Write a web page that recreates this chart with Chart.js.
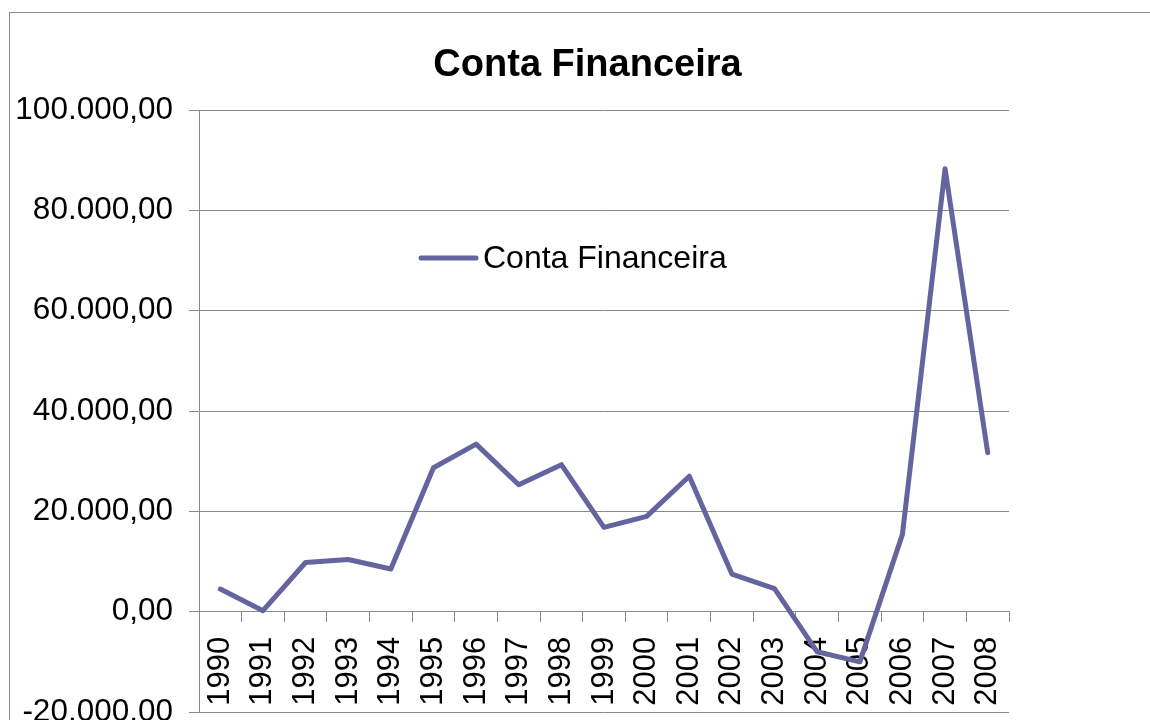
<!DOCTYPE html>
<html>
<head>
<meta charset="utf-8">
<script src="https://cdn.jsdelivr.net/npm/chart.js@4/dist/chart.umd.min.js"></script>
<style>
  html, body { margin: 0; padding: 0; background: #fff; overflow: hidden; width: 1150px; height: 720px; }
  #box { position: absolute; left: 9px; top: 12px; width: 1155px; height: 760px; border: 1.5px solid #8c8c8c; }
  #box canvas { display: block; }
</style>
</head>
<body>
<div id="box"><canvas id="myChart"></canvas></div>
<script>
// dados
const anos = ["1990", "1991", "1992", "1993", "1994", "1995", "1996", "1997", "1998", "1999",
  "2000", "2001", "2002", "2003", "2004", "2005", "2006", "2007", "2008"];
const contaFinanceira = [4500, 200, 9800, 10400, 8500, 28700, 33400, 25300, 29300, 16800,
  19000, 27000, 7500, 4600, -8000, -10000, 15400, 88300, 31700];
const yMin = -20000;
const yMax = 100000;
const yStep = 20000;

const corLinha = "#64649e";
const corGrade = "#898989";
const fonte = "'Liberation Sans', Arial, sans-serif";

// formato 100.000,00
function formatoBR(v) {
  const neg = v < 0;
  let s = Math.abs(Math.round(v)).toString();
  s = s.replace(/\B(?=(\d{3})+(?!\d))/g, ".");
  return (neg ? "-" : "") + s + ",00";
}

// legenda dentro da area do grafico (como no Excel)
const legendaInterna = {
  id: "legendaInterna",
  afterDraw(chart) {
    const ctx = chart.ctx;
    const area = chart.chartArea;
    const ds = chart.data.datasets[0];
    const x = area.left + 222;
    const y = area.top + 148;
    ctx.save();
    ctx.strokeStyle = ds.borderColor;
    ctx.lineWidth = 5;
    ctx.lineCap = "round";
    ctx.beginPath();
    ctx.moveTo(x, y);
    ctx.lineTo(x + 55, y);
    ctx.stroke();
    ctx.fillStyle = "#000";
    ctx.font = "32px " + fonte;
    ctx.textBaseline = "middle";
    ctx.textAlign = "left";
    ctx.fillText(ds.label, x + 62, y + 1);
    ctx.restore();
  },
};

const ctx = document.getElementById("myChart").getContext("2d");

const chartInstance = new Chart(ctx, {
  type: "line",
  data: {
    labels: anos,
    datasets: [
      {
        label: "Conta Financeira",
        data: contaFinanceira,
        borderColor: corLinha,
        backgroundColor: corLinha,
        borderWidth: 5,
        borderCapStyle: "round",
        borderJoinStyle: "round",
        pointRadius: 0,
        tension: 0,
        yAxisID: "y",
      },
    ],
  },
  options: {
    responsive: true,
    maintainAspectRatio: false,
    animation: false,
    layout: { padding: { top: 0, left: 0, right: 0, bottom: 61 } },
    plugins: {
      legend: { display: false },
      tooltip: { enabled: false },
      title: {
        display: true,
        text: "Conta Financeira",
        color: "#000",
        font: { family: fonte, size: 38, weight: "bold" },
        padding: { top: 30, bottom: 21.4 },
      },
    },
    scales: {
      x: {
        type: "category",
        position: { y: 0 }, // eixo X cruza no zero
        offset: true,
        grid: {
          offset: true,
          drawOnChartArea: false,
          drawTicks: true,
          tickLength: 10,
          color: corGrade,
        },
        border: { color: corGrade, width: 1 },
        ticks: {
          color: "#000",
          font: { family: fonte, size: 31 },
          minRotation: 90,
          maxRotation: 90,
          autoSkip: false,
          padding: 15,
        },
        afterFit(scale) {
          scale.height = 0;
        },
      },
      y: {
        position: "left",
        min: yMin,
        max: yMax,
        grid: { color: corGrade, tickLength: 10, lineWidth: 1 },
        border: { color: corGrade, width: 1 },
        ticks: {
          stepSize: yStep,
          color: "#000",
          font: { family: fonte, size: 31.5 },
          padding: 16,
          callback: (v) => formatoBR(v),
        },
        afterFit(scale) {
          scale.width = 189;
        },
      },
      // espaco vazio a direita da area de plotagem
      direita: {
        position: "right",
        grid: { display: false },
        border: { display: false },
        ticks: { display: false },
        afterFit(scale) {
          scale.width = 156;
        },
      },
    },
  },
  plugins: [legendaInterna],
});
</script>
</body>
</html>
